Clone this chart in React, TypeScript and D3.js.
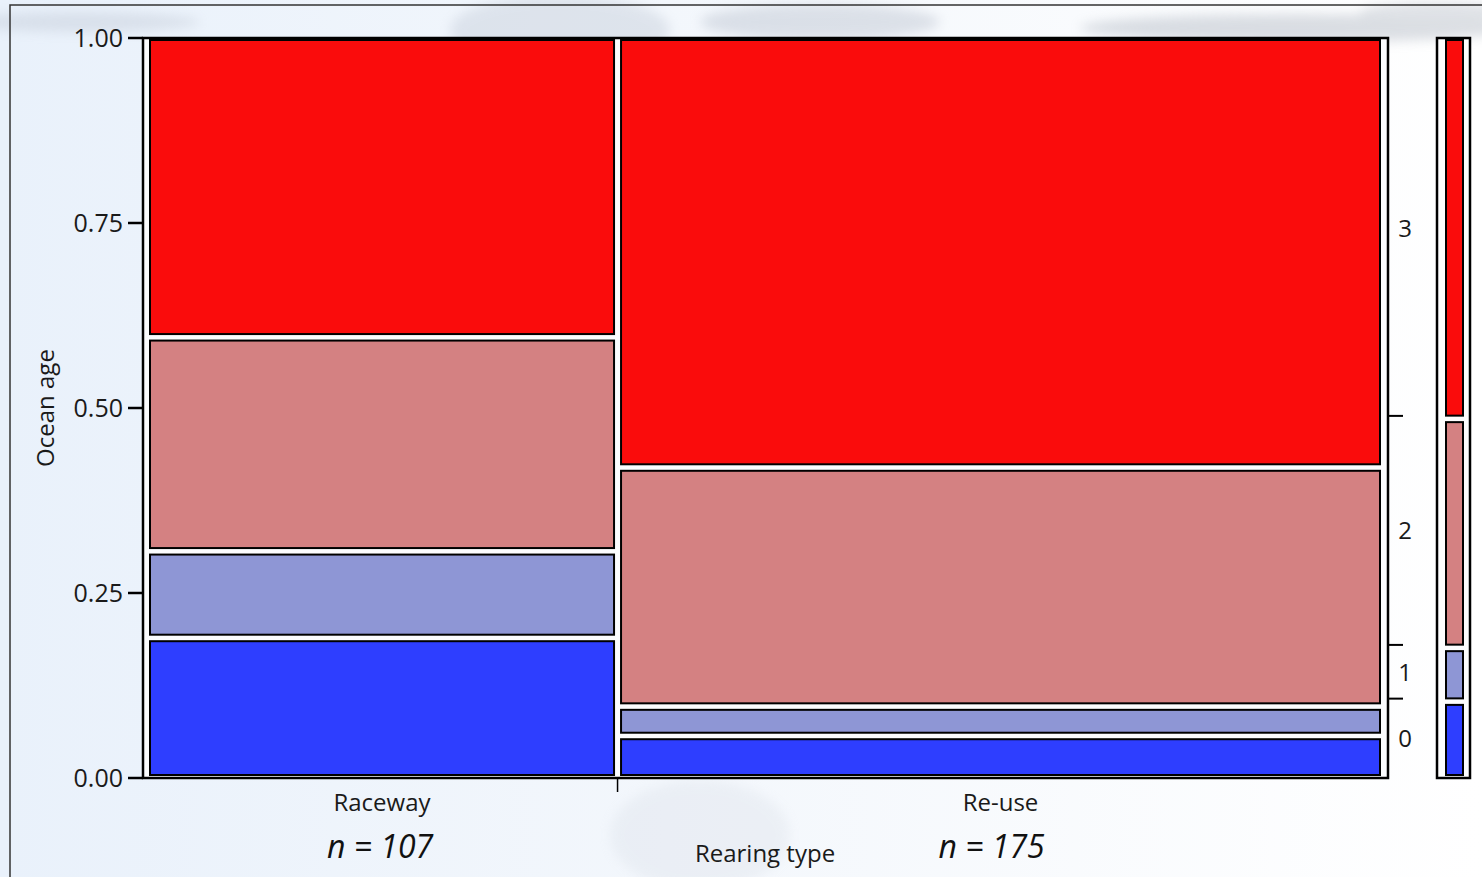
import React from "react";
import * as d3 from "d3";

// ---- data ----
const oceanAges = ["0", "1", "2", "3"];
const rearingTypes = ["Raceway", "Re-use"];
const sampleSizes = [107, 175];
const racewayProps = [0.187, 0.112, 0.29, 0.411];
const reuseProps = [0.05, 0.032, 0.325, 0.593];
const marginalProps = [0.098, 0.066, 0.311, 0.525];
const yTicks = [0, 0.25, 0.5, 0.75, 1];

const ageColors = ["#2e3eff", "#8e96d5", "#d48182", "#fa0c0c"];
const FONT = "'Open Sans', 'DejaVu Sans', sans-serif";

const W = 1482;
const H = 877;

// axis frame
const frame = { left: 143, top: 38, right: 1388, bottom: 778 };
// inner mosaic area
const inner = { left: 150, right: 1380, top: 40, bottom: 775 };
const colGap = 7;
const segGap = 6.5;

type Seg = { x0: number; x1: number; y0: number; y1: number; fill: string };

function stackSegments(props: number[], x0: number, x1: number): Seg[] {
  const avail = inner.bottom - inner.top - segGap * (props.length - 1);
  const h = d3.scaleLinear().domain([0, 1]).range([0, avail]);
  const cums = d3.cumsum(props);
  return props.map((p, i) => {
    const prev = i === 0 ? 0 : cums[i - 1];
    const yb = inner.bottom - h(prev) - i * segGap;
    const yt = yb - h(p);
    return { x0, x1, y0: yt, y1: yb, fill: ageColors[i] };
  });
}

export default function App() {
  const y = d3.scaleLinear().domain([0, 1]).range([frame.bottom, frame.top]);

  const totalN = d3.sum(sampleSizes);
  const xw = d3
    .scaleLinear()
    .domain([0, totalN])
    .range([0, inner.right - inner.left - colGap * (sampleSizes.length - 1)]);
  const cumN = d3.cumsum(sampleSizes);
  const columns = sampleSizes.map((n, i) => {
    const before = i === 0 ? 0 : cumN[i - 1];
    const x0 = inner.left + xw(before) + i * colGap;
    const x1 = x0 + xw(n);
    return { x0, x1, n, name: rearingTypes[i] };
  });
  const colProps = [racewayProps, reuseProps];
  const segs: Seg[] = columns.flatMap((c, i) => stackSegments(colProps[i], c.x0, c.x1));

  const margFrame = { left: 1437, right: 1470 };
  const margSegs = stackSegments(marginalProps, 1446, 1463);

  // right-side ticks between marginal segments
  const rightTicks = margSegs.slice(0, -1).map((s, i) => (s.y0 + margSegs[i + 1].y1) / 2 - 3);
  const tickBounds = [frame.bottom, ...rightTicks, inner.top];

  return (
    <svg
      width={W}
      height={H}
      viewBox={`0 0 ${W} ${H}`}
      style={{ position: "absolute", left: 0, top: 0, display: "block" }}
    >
      <defs>
        <linearGradient id="bg" x1="0" y1="0" x2="1" y2="0">
          <stop offset="0" stopColor="#e9f1fb" />
          <stop offset="0.45" stopColor="#f3f7fc" />
          <stop offset="1" stopColor="#ffffff" />
        </linearGradient>
        <filter id="blur" x="-50%" y="-50%" width="200%" height="200%">
          <feGaussianBlur stdDeviation="6" />
        </filter>
      </defs>
      <rect x={0} y={0} width={W} height={H} fill="url(#bg)" />
      {/* faint water splash at the top */}
      <g filter="url(#blur)" opacity={0.35}>
        <ellipse cx={80} cy={22} rx={120} ry={10} fill="#b7bfcc" />
        <ellipse cx={560} cy={30} rx={110} ry={35} fill="#b9c2d0" />
        <ellipse cx={820} cy={22} rx={120} ry={18} fill="#aab3c2" />
        <ellipse cx={1300} cy={28} rx={220} ry={14} fill="#9aa3b0" />
        <ellipse cx={1440} cy={12} rx={80} ry={10} fill="#a5adba" />
      </g>
      <g opacity={0.18}>
        <ellipse cx={700} cy={835} rx={90} ry={55} fill="#c3cad6" filter="url(#blur)" />
      </g>
      {/* outer border */}
      <path d={`M10,${H} V5 H${W}`} fill="none" stroke="#333" strokeWidth={1.5} />

      {/* panel interior */}
      <rect
        x={frame.left}
        y={frame.top}
        width={frame.right - frame.left}
        height={frame.bottom - frame.top}
        fill="#fbfcfe"
      />

      {/* mosaic tiles */}
      {segs.map((s, i) => (
        <rect
          key={i}
          x={s.x0}
          y={s.y0}
          width={s.x1 - s.x0}
          height={s.y1 - s.y0}
          fill={s.fill}
          stroke="#000"
          strokeWidth={2}
        />
      ))}

      {/* panel frame */}
      <rect
        x={frame.left}
        y={frame.top}
        width={frame.right - frame.left}
        height={frame.bottom - frame.top}
        fill="none"
        stroke="#000"
        strokeWidth={2.5}
      />

      {/* y axis ticks */}
      {yTicks.map((t) => (
        <g key={t}>
          <line x1={128} x2={frame.left} y1={y(t)} y2={y(t)} stroke="#000" strokeWidth={2.5} />
          <text
            x={123}
            y={y(t) + 8.5}
            textAnchor="end"
            fontFamily={FONT}
            fontSize={25}
            fill="#1a1a1a"
          >
            {d3.format(".2f")(t)}
          </text>
        </g>
      ))}
      <text
        transform={`translate(54,${(frame.top + frame.bottom) / 2}) rotate(-90)`}
        textAnchor="middle"
        fontFamily={FONT}
        fontSize={24}
        fill="#1a1a1a"
      >
        Ocean age
      </text>

      {/* x axis: tick at column boundary */}
      {columns.slice(0, -1).map((c, i) => {
        const xb = (c.x1 + columns[i + 1].x0) / 2;
        return <line key={i} x1={xb} x2={xb} y1={frame.bottom} y2={frame.bottom + 14} stroke="#000" strokeWidth={1.5} />;
      })}
      {columns.map((c) => (
        <g key={c.name}>
          <text
            x={(c.x0 + c.x1) / 2}
            y={811}
            textAnchor="middle"
            fontFamily={FONT}
            fontSize={24}
            fill="#1a1a1a"
          >
            {c.name}
          </text>
          <text
            x={(c.x0 + c.x1) / 2 - (c.name === "Re-use" ? 9 : 2)}
            y={858}
            textAnchor="middle"
            fontFamily={FONT}
            fontStyle="italic"
            fontSize={32}
            fill="#111"
          >
            {`n = ${c.n}`}
          </text>
        </g>
      ))}
      <text x={765} y={862} textAnchor="middle" fontFamily={FONT} fontSize={24} fill="#1a1a1a">
        Rearing type
      </text>

      {/* right axis (ocean age categories) */}
      {rightTicks.map((ty, i) => (
        <line key={i} x1={frame.right} x2={frame.right + 15} y1={ty} y2={ty} stroke="#000" strokeWidth={2} />
      ))}
      {oceanAges.map((a, i) => (
        <text
          key={a}
          x={1405}
          y={(tickBounds[i] + tickBounds[i + 1]) / 2 + 9}
          textAnchor="middle"
          fontFamily={FONT}
          fontSize={24}
          fill="#1a1a1a"
        >
          {a}
        </text>
      ))}

      {/* marginal bar */}
      <rect
        x={margFrame.left}
        y={frame.top}
        width={margFrame.right - margFrame.left}
        height={frame.bottom - frame.top}
        fill="#fdfdfe"
        stroke="#000"
        strokeWidth={2.5}
      />
      {margSegs.map((s, i) => (
        <rect
          key={i}
          x={s.x0}
          y={s.y0}
          width={s.x1 - s.x0}
          height={s.y1 - s.y0}
          fill={s.fill}
          stroke="#000"
          strokeWidth={2}
        />
      ))}
    </svg>
  );
}
